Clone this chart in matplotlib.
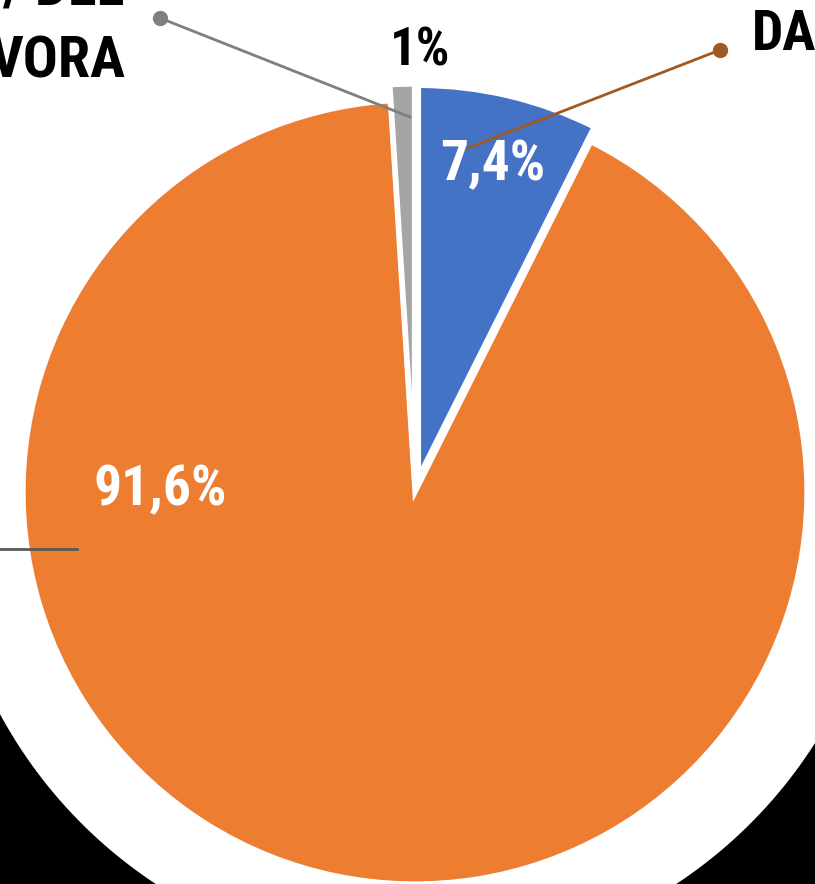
import numpy as np
import matplotlib
matplotlib.use("Agg")
import matplotlib.pyplot as plt

# slice data (clockwise from 12 o'clock)
shares = [7.4, 91.6, 1.0]
pct_labels = ["7,4%", "91,6%", "1%"]
colors = ["#4472C4", "#ED7D31", "#A5A5A5"]

W, H = 815, 884
FONT = ["Roboto Condensed", "Liberation Sans", "DejaVu Sans"]
# pie explode is in data units here (axes drawn in pixel units)
offsets = [15, 0, 16]


def py(y):
    # pixel row (top-down) -> data y (bottom-up)
    return H - y


fig = plt.figure(figsize=(W / 100, H / 100), dpi=100)
ax = fig.add_axes([0, 0, 1, 1])

# black corners behind the white disc at the bottom
xs = np.linspace(0, W, 400)
arc = 489 + np.sqrt(np.clip(473 ** 2 - (xs - 416) ** 2, 0, None))
ax.fill_between(xs, py(arc), 0, color="black", zorder=0, lw=0)

wedges, _ = ax.pie(shares, colors=colors, explode=offsets, startangle=90,
                   counterclock=False, center=(415, py(492)), radius=392,
                   wedgeprops=dict(edgecolor="white", linewidth=3.8))
for w in wedges:
    w.set_zorder(2)

ax.set_xlim(0, W)
ax.set_ylim(0, H)
ax.set_aspect("equal")
ax.axis("off")

# leader lines
ax.plot([160, 410], [py(18), py(117)], color="#7F7F7F", lw=2, zorder=3)
ax.plot([160], [py(18)], "o", color="#7F7F7F", ms=10, zorder=3)
ax.plot([720, 468], [py(50), py(148)], color="#9E5A22", lw=2, zorder=3)
ax.plot([720], [py(50)], "o", color="#9E5A22", ms=10, zorder=3)
ax.plot([0, 77], [py(549), py(549)], color="#595959", lw=2, zorder=3)

# percentage labels
txt = dict(fontweight="bold", family=FONT, va="baseline", zorder=4)
ax.text(420, py(65), pct_labels[2], ha="center", fontsize=38, color="black", **txt)
ax.text(493, py(180), pct_labels[0], ha="center", fontsize=40, color="white", **txt)
ax.text(160, py(505), pct_labels[1], ha="center", fontsize=40, color="white", **txt)

# category labels (cut by the frame, as in the source)
ax.text(125, py(5), "/ DEL", ha="right", fontsize=42, color="black", **txt)
ax.text(125, py(77), "VORA", ha="right", fontsize=42, color="black", **txt)
ax.text(752, py(50), "DA", ha="left", fontsize=40, color="black", **txt)

fig.savefig("out.png", dpi=100, facecolor="white")
